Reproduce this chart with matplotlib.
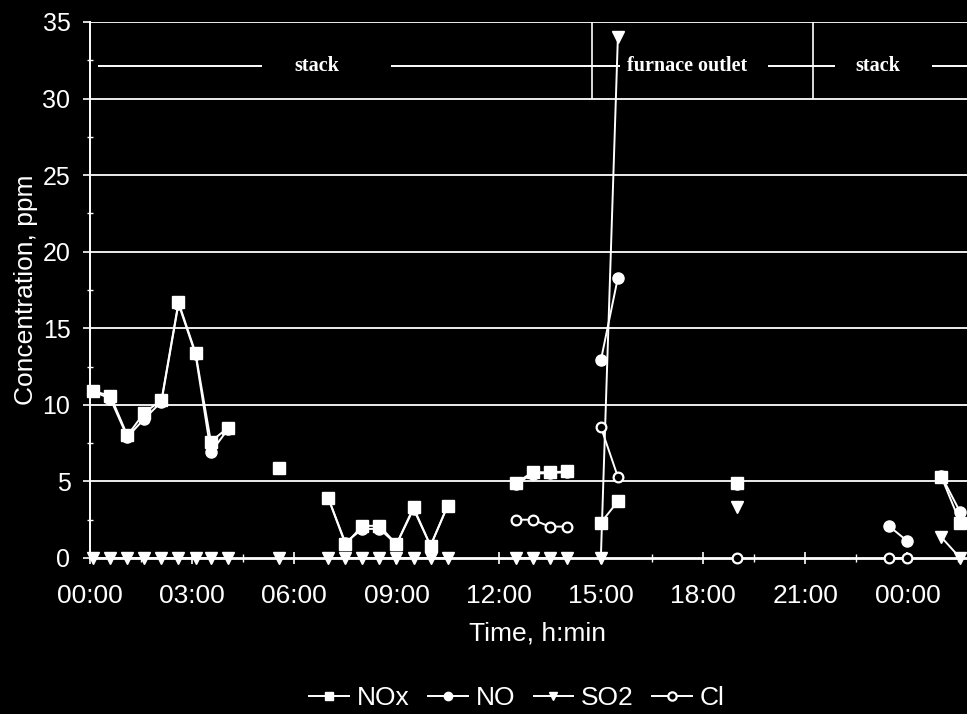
import numpy as np
import pandas as pd
import matplotlib
matplotlib.use("Agg")
import matplotlib.pyplot as plt
from matplotlib.lines import Line2D
from matplotlib.ticker import FixedLocator, MultipleLocator

plt.rcParams['font.family'] = ['Liberation Sans', 'DejaVu Sans']

nan = np.nan

# sampling times, hours from the start of the run (past 24 = next day)
hours = [0.08, 0.6, 1.1, 1.6, 2.1, 2.6, 3.1, 3.55, 4.05,
         5.55,
         7.0, 7.5, 8.0, 8.5, 9.0, 9.5, 10.0, 10.5,
         12.5, 13.0, 13.5, 14.0,
         15.0, 15.5,
         19.0,
         23.45, 24.0,
         25.0, 25.55]
# samples with the same run id are joined by a line
run = [1, 1, 1, 1, 1, 1, 1, 1, 1,
       2,
       3, 3, 3, 3, 3, 3, 3, 3,
       4, 4, 4, 4,
       5, 5,
       6,
       7, 7,
       8, 8]

nox = [10.9, 10.6, 8.0, 9.5, 10.3, 16.7, 13.4, 7.6, 8.5,
       5.9,
       3.9, 0.9, 2.1, 2.1, 0.9, 3.3, 0.8, 3.4,
       4.9, 5.6, 5.6, 5.65,
       2.3, 3.7,
       4.9,
       nan, nan,
       5.3, 2.3]
no = [10.9, 10.4, 7.9, 9.1, 10.2, 16.6, 13.3, 6.9, 8.4,
      5.9,
      3.9, 1.0, 1.9, 1.9, 0.9, 3.2, 0.8, 3.4,
      4.8, 5.5, 5.55, 5.6,
      12.9, 18.3,
      4.8,
      2.1, 1.1,
      5.35, 3.0]
so2 = [0, 0, 0, 0, 0, 0, 0, 0, 0,
       0,
       0, 0, 0, 0, 0, 0, 0, 0,
       0, 0, 0, 0,
       0, 34.0,
       3.3,
       nan, nan,
       1.35, 0]
cl = [nan, nan, nan, nan, nan, nan, nan, nan, nan,
      nan,
      nan, nan, nan, nan, nan, nan, nan, nan,
      2.5, 2.5, 2.05, 2.05,
      8.55, 5.3,
      0,
      0, 0,
      nan, nan]

series_names = ['NOx', 'NO', 'SO2', 'Cl']
xtick_hours = [0, 3, 6, 9, 12, 15, 18, 21, 24]
xtick_labels = ['00:00', '03:00', '06:00', '09:00', '12:00', '15:00',
                '18:00', '21:00', '00:00']
ytick_values = [0, 5, 10, 15, 20, 25, 30, 35]

df = pd.DataFrame({'hours': hours, 'run': run,
                   'NOx': nox, 'NO': no, 'SO2': so2, 'Cl': cl})

fg = 'white'
styles = {
    'NOx': dict(marker='s', markersize=8.5, mfc=fg, mec=fg),
    'NO': dict(marker='o', markersize=8, mfc=fg, mec=fg),
    'SO2': dict(marker='v', markersize=8, mfc=fg, mec=fg),
    'Cl': dict(marker='o', markersize=7, mfc='black', mec=fg, mew=1.6),
}

fig = plt.figure(figsize=(9.67, 7.14), dpi=100, facecolor='black')
ax = fig.add_axes([0.093, 0.2185, 0.907, 0.7507], facecolor='black')

for name in series_names:
    for _, g in df.groupby('run'):
        ax.plot(g['hours'], g[name], color=fg, lw=1.4, zorder=3,
                clip_on=False, **styles[name])

ax.set_xlim(0, 25.75)
ax.set_ylim(0, 35)

# horizontal gridlines
for v in ytick_values[1:]:
    ax.axhline(v, color=fg, lw=1.3, zorder=1)

for side in ['top', 'right']:
    ax.spines[side].set_visible(False)
ax.spines['left'].set_color(fg)
ax.spines['left'].set_linewidth(1.4)
ax.spines['bottom'].set_color(fg)
ax.spines['bottom'].set_linewidth(2.0)

ax.xaxis.set_major_locator(FixedLocator(xtick_hours))
ax.set_xticklabels(xtick_labels)
ax.xaxis.set_minor_locator(MultipleLocator(1.5))
ax.yaxis.set_major_locator(FixedLocator(ytick_values))
ax.yaxis.set_minor_locator(MultipleLocator(2.5))

ax.tick_params(axis='x', which='major', direction='inout', length=9,
               width=1.2, colors=fg, labelsize=19, pad=14)
ax.tick_params(axis='x', which='minor', direction='inout', length=6,
               width=1.0, colors=fg)
ax.tick_params(axis='y', which='major', direction='out', length=5,
               width=1.2, colors=fg, labelsize=18, pad=9)
ax.tick_params(axis='y', which='minor', direction='inout', length=5,
               width=1.0, colors=fg)

ax.set_xlabel('Time, h:min', color=fg, fontsize=19)
ax.xaxis.set_label_coords(0.51, -0.118)
ax.set_ylabel('Concentration, ppm', color=fg, fontsize=19)
ax.yaxis.set_label_coords(-0.059, 0.5)

# sampling location bands along the top
band_y = 32.1
band_starts = [0.25, 8.84, 19.9, 24.73]
band_ends = [5.05, 15.55, 21.86, 25.75]
serif = dict(family=['Liberation Serif', 'DejaVu Serif'], weight='bold',
             size=14.5, color=fg, va='center', zorder=4)
ax.hlines([band_y] * len(band_starts), band_starts, band_ends,
          color=fg, lw=1.4, zorder=2)
ax.vlines([14.75, 21.24], 30, 35, color=fg, lw=1.2, zorder=2)
ax.text(6.67, band_y, 'stack', ha='center', **serif)
ax.text(15.76, band_y, 'furnace outlet', ha='left', **serif)
ax.text(23.14, band_y, 'stack', ha='center', **serif)

handles = [Line2D([], [], color=fg, lw=1.4, **dict(styles[n], markersize=6))
           for n in series_names]
leg = fig.legend(handles, series_names, loc='center', ncol=4,
                 bbox_to_anchor=(517 / 967, 1 - 698 / 714), frameon=False,
                 fontsize=19, handlelength=1.5, handletextpad=0.3,
                 columnspacing=0.7)
for t in leg.get_texts():
    t.set_color(fg)

fig.savefig('out.png', dpi=100, facecolor='black')
